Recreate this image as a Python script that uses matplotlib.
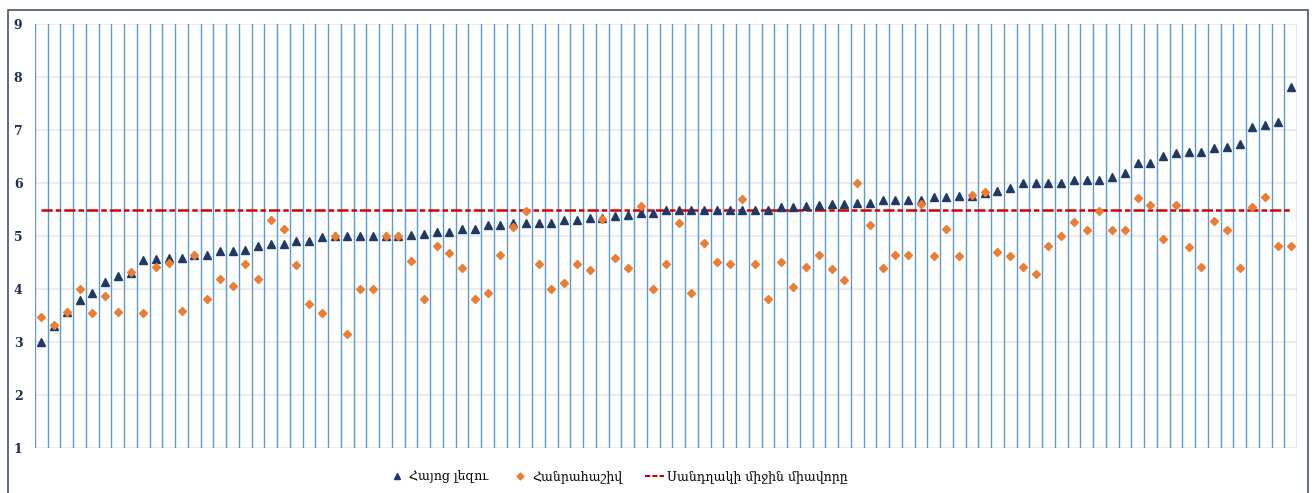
# %% Imports

import numpy as np
import matplotlib
matplotlib.use("Agg")
import matplotlib.pyplot as plt
from matplotlib.lines import Line2D
from matplotlib.patches import Rectangle


# %% Data

# Scores per school, sorted by Armenian language score
armenian = [
    3.0, 3.3, 3.56, 3.8, 3.92, 4.14, 4.24, 4.3, 4.54, 4.57,
    4.58, 4.59, 4.64, 4.65, 4.71, 4.72, 4.74, 4.81, 4.85, 4.85,
    4.91, 4.91, 4.98, 5.0, 5.0, 5.0, 5.0, 5.0, 5.0, 5.02,
    5.03, 5.07, 5.07, 5.13, 5.14, 5.2, 5.2, 5.24, 5.24, 5.24,
    5.24, 5.31, 5.31, 5.34, 5.34, 5.37, 5.4, 5.44, 5.44, 5.5,
    5.5, 5.5, 5.5, 5.5, 5.5, 5.5, 5.5, 5.5, 5.54, 5.55,
    5.57, 5.59, 5.6, 5.6, 5.62, 5.62, 5.67, 5.67, 5.67, 5.67,
    5.74, 5.74, 5.76, 5.76, 5.82, 5.85, 5.9, 6.0, 6.0, 6.0,
    6.0, 6.06, 6.06, 6.06, 6.11, 6.19, 6.37, 6.38, 6.51, 6.56,
    6.58, 6.58, 6.66, 6.68, 6.74, 7.06, 7.09, 7.15, 7.81,
]

algebra = [
    3.48, 3.32, 3.57, 4.0, 3.54, 3.87, 3.56, 4.32, 3.54, 4.42,
    4.49, 3.59, 4.65, 3.82, 4.19, 4.05, 4.48, 4.19, 5.31, 5.14,
    4.45, 3.71, 3.54, 5.0, 3.16, 4.0, 4.0, 5.0, 5.0, 4.52,
    3.82, 4.82, 4.68, 4.39, 3.82, 3.93, 4.65, 5.17, 5.48, 4.48,
    4.0, 4.11, 4.48, 4.36, 5.32, 4.59, 4.39, 5.57, 4.0, 4.48,
    5.25, 3.92, 4.86, 4.51, 4.48, 5.69, 4.48, 3.82, 4.51, 4.03,
    4.42, 4.65, 4.37, 4.17, 6.0, 5.2, 4.39, 4.65, 4.65, 5.61,
    4.62, 5.14, 4.62, 5.77, 5.83, 4.69, 4.62, 4.41, 4.28, 4.82,
    5.0, 5.26, 5.12, 5.47, 5.11, 5.12, 5.71, 5.59, 4.94, 5.59,
    4.79, 4.42, 5.29, 5.11, 4.39, 5.54, 5.73, 4.82, 4.82,
]

scale_mean = 5.5

labels = ["Հայոց լեզու", "Հանրահաշիվ", "Սանդղակի միջին միավորը"]

y_ticks = [1, 2, 3, 4, 5, 6, 7, 8, 9]


# %% Plot

plt.rcParams["font.family"] = ["DejaVu Serif", "DejaVu Sans"]

n = len(armenian)
x = np.arange(1, n + 1)

fig = plt.figure(figsize=(13.14, 4.93), dpi=100)
ax = fig.add_axes([35 / 1314, 1 - 448 / 493, 1262 / 1314, 424 / 493])

# Grid: vertical category separators in blue, light gray horizontal lines
for b in np.arange(0.5, n + 1, 1.0):
    ax.axvline(b, color="#5b9bd5", linewidth=1.0, zorder=1)
for yv in y_ticks:
    ax.axhline(yv, color="#e8e8e8", linewidth=1.2, zorder=0.5)

ax.plot(x, [scale_mean] * n, color="#d40000", linewidth=1.8,
        dashes=(4.5, 1.2, 2.2, 1.2), zorder=2)

ax.plot(x, armenian, linestyle="none", marker="^", markersize=6,
        color="#1f3864", zorder=3)
ax.plot(x, algebra, linestyle="none", marker="D", markersize=4,
        color="#ed7d31", zorder=4)

ax.set_xlim(0.5, n + 0.5)
ax.set_ylim(1, 9)
ax.set_xticks([])
ax.set_yticks(y_ticks)
ax.set_yticklabels([str(t) for t in y_ticks], fontsize=9,
                   fontweight="bold", color="#1f2d4d")
ax.tick_params(axis="y", length=0, pad=9)
for s in ax.spines.values():
    s.set_visible(False)

# Legend below the plot
handles = [
    Line2D([], [], linestyle="none", marker="^", markersize=5, color="#1f3864"),
    Line2D([], [], linestyle="none", marker="D", markersize=3.5, color="#ed7d31"),
    Line2D([], [], color="#d40000", linewidth=1.5, linestyle=(0, (2.5, 1))),
]
fig.legend(handles, labels, loc="center", bbox_to_anchor=(0.47, 1 - 477 / 493),
           ncol=3, frameon=False, fontsize=9, handlelength=1.5,
           handletextpad=0.25, columnspacing=1.8)

# Outer chart border (open at the bottom edge of the image)
border = Rectangle((8 / 1314, -0.1), 1300 / 1314, 1.1 - 10 / 493,
                   transform=fig.transFigure, fill=False,
                   edgecolor="#44546a", linewidth=1.2, clip_on=False)
fig.patches.append(border)

fig.savefig("out.png", dpi=100)
